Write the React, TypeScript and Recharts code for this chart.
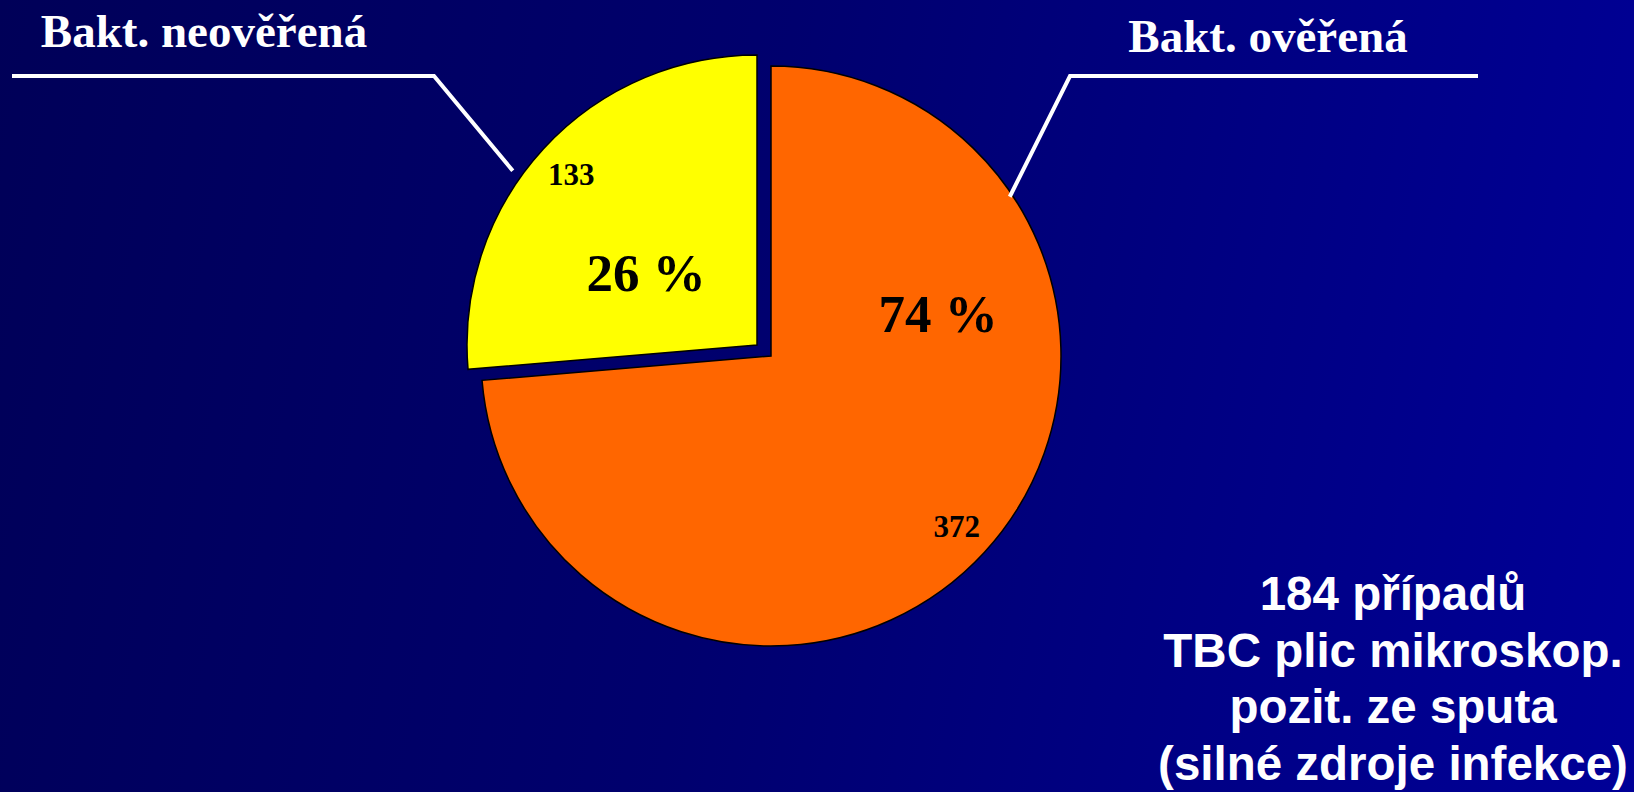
import { PieChart, Pie, Cell } from 'recharts';

// slices, drawn clockwise from 12 o'clock
const categories = ['Bakt. ověřená', 'Bakt. neověřená'];
const caseCounts = [372, 133];
const sliceColors = ['#FF6600', '#FFFF00'];
const noteLines = ['184 případů', 'TBC plic mikroskop.', 'pozit. ze sputa', '(silné zdroje infekce)'];

const data = categories.map((name, i) => ({ name, value: caseCounts[i] }));

const W = 1634;
const H = 792;
const R = 290;
const RADIAN = Math.PI / 180;

// annotation placement, relative to each slice's own centre
const labelLayout = [
  { pct: [167, -42], nameAt: [497, -304], leaderAngle: 33.7, leaderR: 287, elbow: [299, -280], endX: 707 },
  { pct: [-111, -72], nameAt: [-553, -298], leaderAngle: 144.5, leaderR: 300, elbow: [-323, -269], endX: -745 },
];

const serif = '"Liberation Serif", "Times New Roman", serif';

function makeLabel(visibleIndex: number) {
  return (props: any) => {
    const { cx, cy, midAngle, outerRadius, percent, index, value, name } = props;
    if (index !== visibleIndex) return null;
    const lay = labelLayout[index];
    const vr = outerRadius * 0.87;
    const vx = cx + vr * Math.cos(-midAngle * RADIAN);
    const vy = cy + vr * Math.sin(-midAngle * RADIAN);
    const sx = cx + lay.leaderR * Math.cos(-lay.leaderAngle * RADIAN);
    const sy = cy + lay.leaderR * Math.sin(-lay.leaderAngle * RADIAN);
    const ex = cx + lay.elbow[0];
    const ey = cy + lay.elbow[1];
    return (
      <g>
        <polyline
          points={`${sx},${sy} ${ex},${ey} ${cx + lay.endX},${ey}`}
          fill="none"
          stroke="#fff"
          strokeWidth={4}
        />
        <text x={cx + lay.nameAt[0]} y={cy + lay.nameAt[1]} textAnchor="middle" fill="#fff"
          fontFamily={serif} fontWeight="bold" fontSize={47}>
          {name}
        </text>
        <text x={vx} y={vy} textAnchor="middle" dominantBaseline="central" fill="#000"
          fontFamily={serif} fontWeight="bold" fontSize={31}>
          {value}
        </text>
        <text x={cx + lay.pct[0]} y={cy + lay.pct[1]} textAnchor="middle" dominantBaseline="central" fill="#000"
          fontFamily={serif} fontWeight="bold" fontSize={53}>
          {`${Math.round(percent * 100)} %`}
        </text>
      </g>
    );
  };
}

export default function App() {
  return (
    <div
      style={{
        position: 'absolute',
        left: 0,
        top: 0,
        width: W,
        height: H,
        background: 'linear-gradient(100deg, #000058 0%, #00006e 45%, #000098 100%)',
      }}
    >
      <PieChart width={W} height={H} margin={{ top: 0, right: 0, bottom: 0, left: 0 }}>
        {/* main slice */}
        <Pie
          data={data}
          dataKey="value"
          nameKey="name"
          cx={771}
          cy={356}
          outerRadius={R}
          startAngle={90}
          endAngle={-270}
          label={makeLabel(0)}
          labelLine={false}
          isAnimationActive={false}
        >
          {data.map((d, i) => (
            <Cell key={d.name} fill={i === 0 ? sliceColors[0] : 'none'} stroke={i === 0 ? '#000' : 'none'} strokeWidth={1.5} />
          ))}
        </Pie>
        {/* pulled-out slice */}
        <Pie
          data={data}
          dataKey="value"
          nameKey="name"
          cx={757}
          cy={345}
          outerRadius={R}
          startAngle={90}
          endAngle={-270}
          label={makeLabel(1)}
          labelLine={false}
          isAnimationActive={false}
        >
          {data.map((d, i) => (
            <Cell key={d.name} fill={i === 1 ? sliceColors[1] : 'none'} stroke={i === 1 ? '#000' : 'none'} strokeWidth={1.5} />
          ))}
        </Pie>
      </PieChart>
      <svg width={W} height={H} style={{ position: 'absolute', left: 0, top: 0, pointerEvents: 'none' }}>
        {noteLines.map((line, i) => (
          <text key={line} x={1393} y={610 + i * 56.7} textAnchor="middle" fill="#fff"
            fontFamily='"Liberation Sans", Arial, sans-serif' fontWeight="bold" fontSize={47.5}>
            {line}
          </text>
        ))}
      </svg>
    </div>
  );
}
